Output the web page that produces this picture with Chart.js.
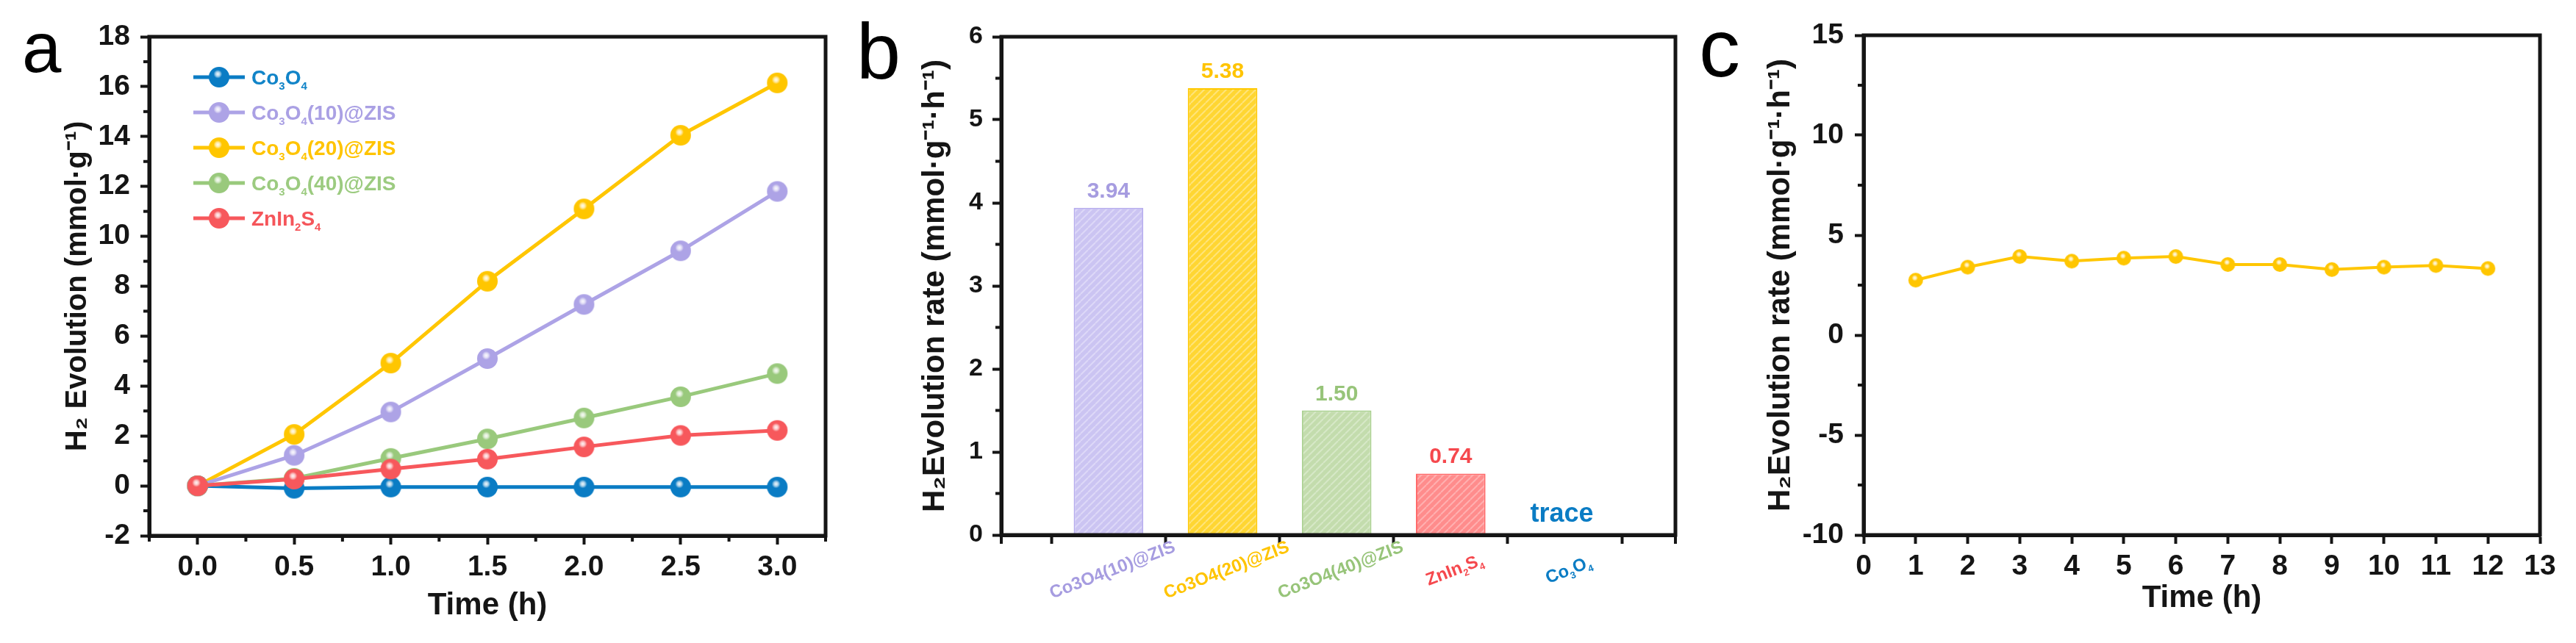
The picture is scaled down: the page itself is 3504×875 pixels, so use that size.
<!DOCTYPE html>
<html><head><meta charset="utf-8">
<script src="https://cdn.jsdelivr.net/npm/chart.js@4.4.1/dist/chart.umd.min.js"></script>
<style>
html,body{margin:0;padding:0;background:#fff;}
#wrap{position:relative;width:3504px;height:875px;overflow:hidden;background:#fff;}
canvas{position:absolute;top:0;}
.lbl{position:absolute;font-family:'Liberation Sans',Arial,sans-serif;color:#000;line-height:1;z-index:5;}
</style></head><body>
<div id="wrap">
<canvas id="ca" width="1170" height="875" style="left:0px"></canvas>
<canvas id="cb" width="1170" height="875" style="left:1170px"></canvas>
<canvas id="cc" width="1164" height="875" style="left:2340px"></canvas>
<div class="lbl" style="left:30px;top:17px;font-size:96px">a</div>
<div class="lbl" style="left:1165px;top:16px;font-size:108px">b</div>
<div class="lbl" style="left:2311px;top:10px;font-size:112px">c</div>
</div>
<script>
// ---------- DATA ----------
const timeA = [0, 0.5, 1.0, 1.5, 2.0, 2.5, 3.0];
const seriesNamesA = ['Co₃O₄', 'Co₃O₄(10)@ZIS', 'Co₃O₄(20)@ZIS', 'Co₃O₄(40)@ZIS', 'ZnIn₂S₄'];
const co3o4 = [0, -0.1, -0.05, -0.05, -0.05, -0.05, -0.05];
const co3o4_10 = [0, 1.22, 2.96, 5.1, 7.27, 9.42, 11.8];
const co3o4_20 = [0, 2.06, 4.92, 8.2, 11.1, 14.05, 16.15];
const co3o4_40 = [0, 0.3, 1.1, 1.88, 2.72, 3.57, 4.5];
const znin2s4 = [0, 0.27, 0.67, 1.07, 1.56, 2.02, 2.22];
const yTicksA = [-2, 0, 2, 4, 6, 8, 10, 12, 14, 16, 18];

const categoriesB = ['Co3O4(10)@ZIS', 'Co3O4(20)@ZIS', 'Co3O4(40)@ZIS', 'ZnIn₂S₄', 'Co₃O₄'];
const ratesB = [3.94, 5.38, 1.50, 0.74, 0];
const rateLabelsB = ['3.94', '5.38', '1.50', '0.74', 'trace'];
const yTicksB = [0, 1, 2, 3, 4, 5, 6];

const timeC = [1, 2, 3, 4, 5, 6, 7, 8, 9, 10, 11, 12];
const rateC = [2.75, 3.4, 3.93, 3.7, 3.85, 3.93, 3.53, 3.53, 3.28, 3.4, 3.48, 3.33];
const xTicksC = [0, 1, 2, 3, 4, 5, 6, 7, 8, 9, 10, 11, 12, 13];
const yTicksC = [-10, -5, 0, 5, 10, 15];

// ---------- STYLE ----------
const FONT = "'Liberation Sans', Arial, sans-serif";
const INK = '#151515';
const colBlue = '#0a7cc4', colPurple = '#ada3e6', colYellow = '#ffc600', colGreen = '#99c97c', colRed = '#f7585c';
const seriesA = [co3o4, co3o4_10, co3o4_20, co3o4_40, znin2s4];
const colorsA = [colBlue, colPurple, colYellow, colGreen, colRed];
const textColorsA = ['#1184c8', '#aaa0e4', '#ffc400', '#9ccb80', '#f5555a'];
const orderA = [2, 3, 4, 1, 0];
const barBase = ['#cbc4f2', '#ffd632', '#c3dcad', '#ff8c8c', '#9cc9ea'];
const barStripe = ['#ddd8f7', '#ffe47a', '#d6e8c7', '#ffb0b0', '#c4e0f3'];
const barBorder = ['#b6acee', '#ffc800', '#a9d08f', '#ff6a6a', colBlue];
const labelColorsB = ['#a69ce0', '#ffc400', '#97c479', '#f5484d', '#0a7cc4'];

function sphere(color, r) {
  const c = document.createElement('canvas');
  const s = 2 * r + 2; c.width = c.height = s;
  const g = c.getContext('2d'); const cx = s / 2, cy = s / 2;
  g.beginPath(); g.arc(cx, cy, r, 0, 2 * Math.PI); g.fillStyle = color; g.fill();
  const hx = cx - 0.12 * r, hy = cy - 0.3 * r;
  const rg = g.createRadialGradient(hx, hy, 0, hx, hy, 0.42 * r);
  rg.addColorStop(0, 'rgba(255,255,255,0.95)');
  rg.addColorStop(0.5, 'rgba(255,255,255,0.65)');
  rg.addColorStop(1, 'rgba(255,255,255,0)');
  g.fillStyle = rg; g.beginPath(); g.arc(cx, cy, r, 0, 2 * Math.PI); g.fill();
  return c;
}
function hatch(ctx, base, stripe) {
  const c = document.createElement('canvas'); c.width = c.height = 10;
  const g = c.getContext('2d');
  g.fillStyle = base; g.fillRect(0, 0, 10, 10);
  g.strokeStyle = stripe; g.lineWidth = 2; g.beginPath();
  for (let k = -10; k <= 20; k += 10) { g.moveTo(k, 10); g.lineTo(k + 10, 0); }
  g.stroke();
  return ctx.createPattern(c, 'repeat');
}
const SUBMAP = {'₀':'0','₁':'1','₂':'2','₃':'3','₄':'4','₅':'5','₆':'6','₇':'7','₈':'8','₉':'9'};
const SUPMAP = {'⁰':'0','¹':'1','²':'2','³':'3','⁴':'4','⁵':'5','⁶':'6','⁷':'7','⁸':'8','⁹':'9','⁻':'-'};
function segs(str) {
  const out = [];
  for (const ch of str) {
    const k = SUBMAP[ch] !== undefined ? 'sub' : (SUPMAP[ch] !== undefined ? 'sup' : 'n');
    const t = k === 'sub' ? SUBMAP[ch] : (k === 'sup' ? SUPMAP[ch] : ch);
    const last = out[out.length - 1];
    if (last && last.k === k) last.t += t; else out.push({k, t});
  }
  return out;
}
function drawRich(ctx, str, x, y, size, color, align) {
  const s = segs(str);
  const f = k => `bold ${k === 'n' ? size : Math.round(size * 0.55)}px ${FONT}`;
  let w = 0;
  s.forEach(g => { ctx.font = f(g.k); g.w = ctx.measureText(g.t).width; w += g.w; });
  let cx = align === 'center' ? x - w / 2 : (align === 'right' ? x - w : x);
  ctx.fillStyle = color; ctx.textBaseline = 'alphabetic'; ctx.textAlign = 'left';
  s.forEach(g => {
    ctx.font = f(g.k);
    const dy = g.k === 'sub' ? size * 0.24 : (g.k === 'sup' ? -size * 0.42 : 0);
    ctx.fillText(g.t, cx, y + dy); cx += g.w;
  });
}

// frame + minor ticks plugin
const framePlugin = {
  id: 'frame',
  afterDatasetsDraw(chart, args, opts) {
    const {ctx, chartArea: a} = chart;
    ctx.save();
    ctx.strokeStyle = INK; ctx.lineWidth = 5;
    ctx.strokeRect(a.left, a.top, a.right - a.left, a.bottom - a.top);
    ctx.lineWidth = 4; ctx.lineCap = 'butt';
    (opts.minor || []).forEach(([id, len]) => {
      const sc = chart.scales[id];
      const maj = sc.ticks.map(t => t.value);
      const step = maj[1] - maj[0];
      for (let v = maj[0] - step / 2; v <= maj[maj.length - 1] + step / 2 + 1e-9; v += step) {
        if (v < sc.min - 1e-9 || v > sc.max + 1e-9) continue;
        const p = sc.getPixelForValue(v);
        ctx.beginPath();
        if (sc.isHorizontal()) { ctx.moveTo(p, a.bottom); ctx.lineTo(p, a.bottom + len); }
        else { ctx.moveTo(a.left, p); ctx.lineTo(a.left - len, p); }
        ctx.stroke();
      }
    });
    if (opts.edgeTicks) {
      [a.left, a.right].forEach(p => { ctx.beginPath(); ctx.moveTo(p, a.bottom); ctx.lineTo(p, a.bottom + opts.edgeTicks); ctx.stroke(); });
    }
    ctx.restore();
  }
};

function axisCommon(size, pad, cb) {
  const t = {font: {family: FONT, size: size, weight: 'bold'}, color: INK, padding: pad, maxRotation: 0, minRotation: 0};
  if (cb) t.callback = cb;
  return {
    ticks: t,
    grid: {drawOnChartArea: false, drawTicks: true, tickLength: 12, tickWidth: 4, tickColor: INK},
    border: {display: true, width: 5, color: INK}
  };
}
function titleOpt(text, pad, size) {
  return {display: true, text: text, color: INK, font: {family: FONT, size: size || 42, weight: 'bold'}, padding: pad};
}

// ---------- PANEL A ----------
const spheresA = colorsA.map(c => sphere(c, 14));
const legendA = {
  id: 'legendA',
  afterDatasetsDraw(chart) {
    const {ctx, chartArea: a} = chart;
    ctx.save();
    seriesNamesA.forEach((name, i) => {
      const y = a.top + 55 + i * 48;
      const x0 = a.left + 60;
      ctx.strokeStyle = colorsA[i]; ctx.lineWidth = 5;
      ctx.beginPath(); ctx.moveTo(x0, y); ctx.lineTo(x0 + 70, y); ctx.stroke();
      ctx.drawImage(spheresA[i], x0 + 35 - spheresA[i].width / 2, y - spheresA[i].height / 2);
      drawRich(ctx, name, x0 + 79, y + 10, 28, textColorsA[i], 'left');
    });
    ctx.restore();
  }
};
const axA = axisCommon(39, 8, v => Number(v).toFixed(1)), ayA = axisCommon(39, 14);
new Chart(document.getElementById('ca'), {
  type: 'line',
  data: {
    datasets: seriesA.map((vals, i) => ({
      label: seriesNamesA[i],
      data: timeA.map((t, j) => ({x: t, y: vals[j]})),
      borderColor: colorsA[i], backgroundColor: colorsA[i], borderWidth: 5,
      pointStyle: spheresA[i], pointRadius: 14, order: orderA[i], tension: 0
    }))
  },
  options: {
    responsive: false, animation: false, devicePixelRatio: 1, events: [],
    layout: {padding: {left: 0, right: 47, top: 50, bottom: 0}},
    plugins: {legend: {display: false}, tooltip: {enabled: false}, frame: {minor: [['x', 8], ['y', 8]]}},
    scales: {
      x: Object.assign(axA, {type: 'linear', min: -0.25, max: 3.25,
        afterBuildTicks: s => { s.ticks = timeA.map(v => ({value: v})); },
        afterFit: s => { s.height = 146; },
        title: titleOpt('Time (h)', {top: 0, bottom: 25})}),
      y: Object.assign(ayA, {type: 'linear', min: -2, max: 18,
        afterBuildTicks: s => { s.ticks = yTicksA.map(v => ({value: v})); },
        afterFit: s => { s.width = 203; },
        title: titleOpt('H₂ Evolution (mmol·g⁻¹)', {top: 82, bottom: 0}, 40)})
    }
  },
  plugins: [framePlugin, legendA]
});

// ---------- PANEL B ----------
const ctxB = document.getElementById('cb').getContext('2d');
const barLabelsB = {
  id: 'barLabelsB',
  afterDatasetsDraw(chart) {
    const {ctx} = chart;
    const meta = chart.getDatasetMeta(0);
    const y0 = chart.scales.y.getPixelForValue(0);
    ctx.save();
    meta.data.forEach((bar, i) => {
      const txt = rateLabelsB[i];
      ctx.textAlign = 'center'; ctx.textBaseline = 'alphabetic';
      ctx.fillStyle = labelColorsB[i];
      if (ratesB[i] === 0) { ctx.font = `bold 36px ${FONT}`; ctx.fillText(txt, bar.x - 4, y0 - 18); }
      else { ctx.font = `bold 30px ${FONT}`; ctx.fillText(txt, bar.x, bar.y - 14); }
    });
    const xs = chart.scales.x;
    categoriesB.forEach((name, i) => {
      const px = xs.getPixelForValue(i + 1) + 5;
      ctx.save();
      ctx.translate(px, y0 + 47);
      ctx.rotate(-21 * Math.PI / 180);
      drawRich(ctx, name, 0, 8, 24, labelColorsB[i], 'center');
      ctx.restore();
    });
    ctx.restore();
  }
};
const axB = axisCommon(34, 13, () => ''), ayB = axisCommon(34, 13);
new Chart(document.getElementById('cb'), {
  type: 'bar',
  data: {
    datasets: [{
      data: categoriesB.map((c, i) => ({x: i + 1, y: ratesB[i]})),
      backgroundColor: barBase.map((b, i) => hatch(ctxB, b, barStripe[i])),
      borderColor: barBorder, borderWidth: 2,
      categoryPercentage: 1, barPercentage: 0.61
    }]
  },
  options: {
    responsive: false, animation: false, devicePixelRatio: 1, events: [],
    layout: {padding: {left: 0, right: 61, top: 50, bottom: 0}},
    plugins: {legend: {display: false}, tooltip: {enabled: false}, frame: {minor: [['y', 8]], edgeTicks: 12}},
    scales: {
      x: Object.assign(axB, {type: 'linear', min: 0.06, max: 5.97, offset: false,
        afterBuildTicks: s => { s.ticks = categoriesB.map((c, i) => ({value: i + 1})); },
        afterFit: s => { s.height = 147; }}),
      y: Object.assign(ayB, {type: 'linear', min: 0, max: 6,
        afterBuildTicks: s => { s.ticks = yTicksB.map(v => ({value: v})); },
        afterFit: s => { s.width = 192; },
        title: titleOpt('H₂Evolution rate (mmol·g⁻¹·h⁻¹)', {top: 77, bottom: 0})})
    }
  },
  plugins: [framePlugin, barLabelsB]
});

// ---------- PANEL C ----------
const sphereC = sphere(colYellow, 10);
const axC = axisCommon(39, 8), ayC = axisCommon(39, 15);
new Chart(document.getElementById('cc'), {
  type: 'line',
  data: {
    datasets: [{
      data: timeC.map((t, j) => ({x: t, y: rateC[j]})),
      borderColor: colYellow, backgroundColor: colYellow, borderWidth: 4,
      pointStyle: sphereC, pointRadius: 10, tension: 0
    }]
  },
  options: {
    responsive: false, animation: false, devicePixelRatio: 1, events: [],
    layout: {padding: {left: 0, right: 49, top: 48, bottom: 0}},
    plugins: {legend: {display: false}, tooltip: {enabled: false}, frame: {minor: [['y', 8]]}},
    scales: {
      x: Object.assign(axC, {type: 'linear', min: 0, max: 13,
        afterBuildTicks: s => { s.ticks = xTicksC.map(v => ({value: v})); },
        afterFit: s => { s.height = 147; },
        title: titleOpt('Time (h)', {top: 0, bottom: 35})}),
      y: Object.assign(ayC, {type: 'linear', min: -10, max: 15,
        afterBuildTicks: s => { s.ticks = yTicksC.map(v => ({value: v})); },
        afterFit: s => { s.width = 195; },
        title: titleOpt('H₂Evolution rate (mmol·g⁻¹·h⁻¹)', {top: 57, bottom: 0})})
    }
  },
  plugins: [framePlugin]
});
</script>
</body></html>
